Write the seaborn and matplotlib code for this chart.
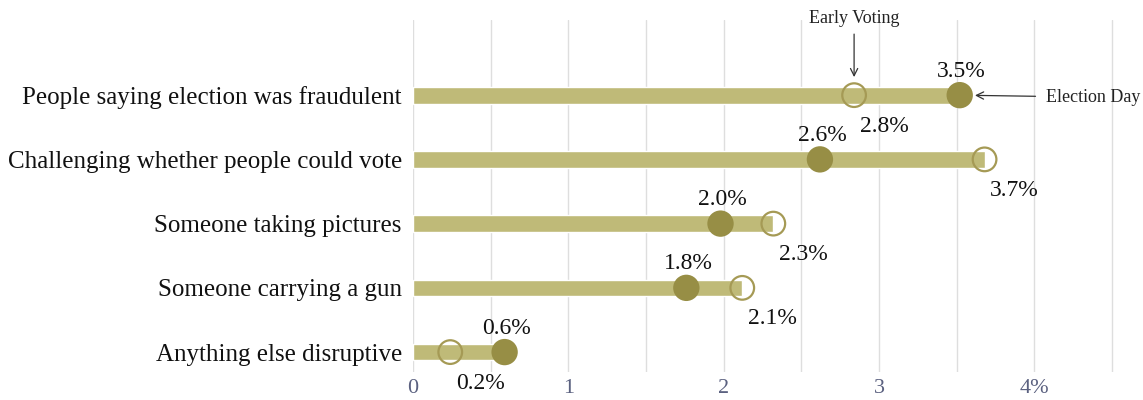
import numpy as np
import pandas as pd
import matplotlib
matplotlib.use("Agg")
import matplotlib.pyplot as plt
import seaborn as sns

## data
categories = ["People saying election was fraudulent",
              "Challenging whether people could vote",
              "Someone taking pictures",
              "Someone carrying a gun",
              "Anything else disruptive"]
election_day = [3.52, 2.62, 1.98, 1.76, 0.59]
early_voting = [2.84, 3.68, 2.32, 2.12, 0.24]
tick_values = [0, 1, 2, 3, 4]
tick_labels = ["0", "1", "2", "3", "4%"]

df = pd.DataFrame({"category": categories,
                   "election": election_day,
                   "early": early_voting})
df["top"] = df[["election", "early"]].max(axis=1)
df["pos"] = np.arange(len(df))

bar_col = "#bfba78"
dot_col = "#978e45"
ring_col = "#a59a55"

sns.set_theme(style="white")
plt.rcParams["font.family"] = ["Liberation Serif", "DejaVu Serif"]

fig = plt.figure(figsize=(11.43, 4.0), dpi=100)
ax = fig.add_axes([0.3613, 0.07, 0.6387, 0.88])

# gridlines
for g in np.arange(0, 5.0, 0.5):
    ax.axvline(g, color="#dedede", lw=1.0, zorder=0)

sns.barplot(data=df, x="top", y="category", orient="h", width=0.26,
            color=bar_col, saturation=1, ax=ax, zorder=2)

sns.scatterplot(data=df, x="election", y="pos", s=360, color=dot_col,
                edgecolor="none", ax=ax, zorder=4, legend=False)
ax.scatter(df["early"], df["pos"], s=290, facecolors="none",
           edgecolors=ring_col, linewidths=1.6, zorder=5)

for _, r in df.iterrows():
    ax.annotate(f"{r['election']:.1f}%", (r["election"], r["pos"]),
                xytext=(2, 24), textcoords="offset pixels",
                ha="center", va="center", fontsize=17, color="#111111")
    ax.annotate(f"{r['early']:.1f}%", (r["early"], r["pos"]),
                xytext=(30, -31), textcoords="offset pixels",
                ha="center", va="center", fontsize=17, color="#111111")

# callouts
ax.annotate("Early Voting", (df["early"][0], 0), xytext=(0, 77),
            textcoords="offset pixels", ha="center", va="center",
            fontsize=13, color="#222222", annotation_clip=False,
            arrowprops=dict(arrowstyle="->", color="#333333", lw=0.9,
                            shrinkA=3, shrinkB=13))
ax.annotate("Election Day", (df["election"][0], 0), xytext=(86, -2),
            textcoords="offset pixels", ha="left", va="center",
            fontsize=13, color="#222222", annotation_clip=False,
            arrowprops=dict(arrowstyle="->", color="#333333", lw=0.9,
                            shrinkA=5, shrinkB=11))

ax.set_xlim(0, 4.7)
ax.set_ylim(4.31, -1.17)
ax.set_xticks(tick_values)
ax.set_xticklabels(tick_labels, fontsize=16, color="#5b6180")
ax.set_yticks(df["pos"])
ax.set_yticklabels(categories, fontsize=18, color="#111111")
ax.tick_params(axis="x", length=0, pad=5)
ax.tick_params(axis="y", length=0, pad=8)
ax.set_xlabel("")
ax.set_ylabel("")
sns.despine(ax=ax, left=True, bottom=True)

fig.savefig("out.png", dpi=100)
